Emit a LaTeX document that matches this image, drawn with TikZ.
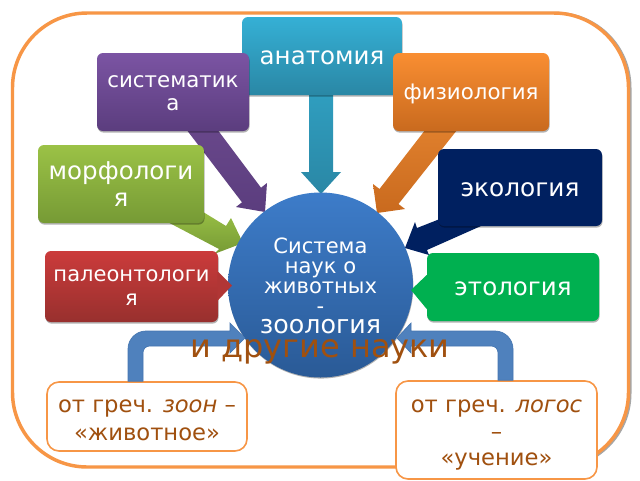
\documentclass[tikz,border=0pt]{standalone}
\usepackage{fontspec}
\setmainfont{DejaVu Sans}
\usetikzlibrary{calc,shadows,backgrounds}
\definecolor{frameor}{HTML}{F79646}
\definecolor{brownt}{HTML}{A0500F}
\definecolor{bluearr}{HTML}{4F81BD}
\definecolor{bluearrd}{HTML}{4475B0}
\definecolor{anaT}{HTML}{35B0D5}\definecolor{anaB}{HTML}{2A87A5}
\definecolor{sysT}{HTML}{7B54A3}\definecolor{sysB}{HTML}{5B3D7E}
\definecolor{phyT}{HTML}{F98E32}\definecolor{phyB}{HTML}{C96A1E}
\definecolor{morT}{HTML}{9BC246}\definecolor{morB}{HTML}{769A35}
\definecolor{palT}{HTML}{CB3B3B}\definecolor{palB}{HTML}{98302E}
\definecolor{ecoC}{HTML}{002060}
\definecolor{etoC}{HTML}{00B050}
\definecolor{hubT}{HTML}{3D7CC9}\definecolor{hubB}{HTML}{2A5A96}
\newcommand{\fs}[2]{\fontsize{#1}{#2}\selectfont}
\newcommand{\dn}[2]{\raisebox{-#1pt}[\height][\depth]{#2}}
\tikzset{
  x=0.75pt,y=-0.75pt,
  boxn/.style 2 args={rectangle,rounded corners=4.5pt,text=white,align=center,inner sep=0pt,
    minimum width=#1*0.75pt,minimum height=#2*0.75pt,
    drop shadow={shadow xshift=0.4pt,shadow yshift=-1.2pt,fill=black,opacity=.3}},
  grad/.style 2 args={top color=#1,bottom color=#2},
  notebox/.style 2 args={rectangle,rounded corners=9pt,draw=frameor,line width=1.2pt,fill=white,
    text=brownt,align=center,inner sep=0pt,minimum width=#1*0.75pt,minimum height=#2*0.75pt},
  bentarr/.style={fill=bluearr,draw=bluearrd,line width=0.5pt},
  framel/.style={line width=2.6pt,rounded corners=56pt}
}
\begin{document}
\begin{tikzpicture}
\useasboundingbox (0,0) rectangle (640,480);
% hub and boxes
\node[circle,inner sep=0pt,minimum size=185*0.75pt,top color=hubT,bottom color=hubB,text=white,align=center,
  font=\fs{15.8}{15},
  drop shadow={shadow xshift=0.3pt,shadow yshift=-0.8pt,fill=black,opacity=.3}] (hub) at (320.5,285)
  {\dn{0.5}{Система}\\\dn{0.5}{наук о}\\\dn{0.5}{животных}\\\dn{0.5}{-}\\\dn{0.5}{\fs{19}{15}зоология}};
\node[boxn={160}{78},grad={anaT}{anaB},font=\fs{18.4}{22}] (ana) at (322,56) {\dn{1.5}{анатомия}};
\node[boxn={152}{78},grad={sysT}{sysB},font=\fs{16}{17.5}] (sys) at (173,92) {\dn{0.8}{систематик}\\\dn{0.8}{а}};
\node[boxn={156}{78},grad={phyT}{phyB},font=\fs{16}{18}] (phy) at (471,92) {\dn{1.5}{физиология}};
\node[boxn={166}{78},grad={morT}{morB},font=\fs{18.4}{20}] (mor) at (121,184) {морфологи\\я};
\node[boxn={164}{77},fill=ecoC,font=\fs{18.6}{20}] (eco) at (520,187.5) {\dn{1.5}{экология}};
\node[boxn={173}{71},grad={palT}{palB},font=\fs{15.8}{18}] (pal) at (131.5,286.5) {\dn{0.8}{палеонтологи}\\\dn{0.8}{я}};
\node[boxn={172}{68},fill=etoC,font=\fs{18.4}{20}] (eto) at (513,287) {\dn{1}{этология}};
\node[notebox={200}{69},font=\fs{17}{21}] (lbox) at (147,416.5) {\dn{3}{от греч. \textit{зоон} –}\\\dn{3}{«животное»}};
\node[notebox={201}{98},font=\fs{17}{20}] (rbox) at (496.5,430) {\dn{4}{от греч. \textit{логос}}\\\dn{4}{–}\\\dn{4}{«учение»}};
% frame and block arrows, behind the nodes
\begin{pgfonlayer}{background}
\fill[white] (0,0) rectangle (640,480);
\draw[gray!70,line width=1.8pt,rounded corners=56pt] (520,13) -- (630.3,13) -- (630.3,468) -- (590,468);
\draw[frameor,framel] (12.5,13) rectangle (628.5,467);
\path[top color=anaT!90!black,bottom color=anaB]
  ($(ana.south)+(-13,-5)$) -- ($(hub)+(-11.5,-113)$) -- ($(hub)+(-19.5,-113)$) -- ($(hub)+(0.5,-91)$)
  -- ($(hub)+(20.5,-113)$) -- ($(hub)+(12.5,-113)$) -- ($(ana.south)+(11,-5)$) -- cycle;
\path[top color=sysT!85!black,bottom color=sysB]
  ($(sys)+(41,33)$) -- ($(hub)+(-59.5,-97.3)$) -- ($(hub)+(-53.5,-102)$) -- ($(hub)+(-55.5,-73)$)
  -- ($(hub)+(-84.5,-78)$) -- ($(hub)+(-78.5,-82.7)$) -- ($(sys)+(10,33)$) -- cycle;
\path[top color=phyT!90!black,bottom color=phyB]
  ($(phy)+(-42,33)$) -- ($(hub)+(59,-96)$) -- ($(hub)+(52.5,-101)$) -- ($(hub)+(56.5,-72)$)
  -- ($(hub)+(84.5,-76)$) -- ($(hub)+(78,-81)$) -- ($(phy)+(-10,33)$) -- cycle;
\path[top color=morT,bottom color=morB]
  ($(mor)+(74,23)$) -- ($(hub)+(-94.5,-59)$) -- ($(hub)+(-89.5,-67)$) -- ($(hub)+(-77.5,-42)$)
  -- ($(hub)+(-106.5,-31)$) -- ($(hub)+(-101.5,-36)$) -- ($(mor)+(39,34)$) -- cycle;
\fill[ecoC]
  ($(eco)+(-70,27.5)$) -- ($(hub)+(96.5,-57)$) -- ($(hub)+(94.5,-63)$) -- ($(hub)+(84.5,-37)$)
  -- ($(hub)+(108.5,-30)$) -- ($(hub)+(106.5,-35)$) -- ($(eco)+(-30,34.5)$) -- cycle;
\end{pgfonlayer}
% pointers of the two callout boxes
\fill[palT!50!palB] ($(pal.east)+(-1,-14.5)$) -- ($(pal.east)+(0,-14.5)$) -- ($(hub)+(-88.5,0.5)$) -- ($(pal.east)+(0,13.5)$) -- ($(pal.east)+(-1,13.5)$) -- cycle;
\fill[etoC] ($(eto.west)+(1,-12)$) -- ($(eto.west)+(0,-12)$) -- ($(hub)+(90.5,5)$) -- ($(eto.west)+(0,22)$) -- ($(eto.west)+(1,22)$) -- cycle;
% bent arrows
\path[bentarr] ($(lbox.north)+(-19,0)$) [rounded corners=13.5pt] -- ($(hub)+(-192.5,46)$) [sharp corners]
  -- ($(hub)+(-90.5,46)$) -- ($(hub)+(-90.5,38)$) -- ($(hub)+(-75.5,53)$) -- ($(hub)+(-90.5,68)$) -- ($(hub)+(-90.5,61)$)
  [rounded corners=5pt] -- ($(hub)+(-177.5,61)$) [sharp corners] -- ($(lbox.north)+(-4,0)$) -- cycle;
\path[bentarr] ($(rbox.north)+(16.5,0)$) [rounded corners=13.5pt] -- ($(hub)+(192.5,46)$) [sharp corners]
  -- ($(hub)+(90.5,46)$) -- ($(hub)+(90.5,38)$) -- ($(hub)+(76.5,53)$) -- ($(hub)+(90.5,68)$) -- ($(hub)+(90.5,61)$)
  [rounded corners=5pt] -- ($(hub)+(177.5,61)$) [sharp corners] -- ($(rbox.north)+(1.5,0)$) -- cycle;
\node[text=brownt,font=\fs{24}{24},inner sep=0pt] (other) at (320,352) {и другие науки};
\end{tikzpicture}
\end{document}
